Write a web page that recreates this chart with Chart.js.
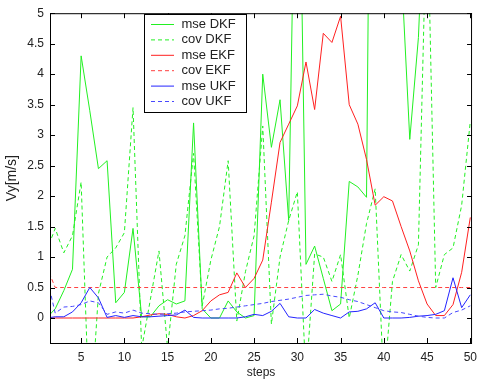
<!DOCTYPE html>
<html>
<head>
<meta charset="utf-8">
<script src="https://cdn.jsdelivr.net/npm/chart.js@4.4.1/dist/chart.umd.min.js"></script>
<style>
  html, body { margin: 0; padding: 0; background: #fff; }
  #wrap { width: 484px; height: 385px; }
</style>
</head>
<body>
<div id="wrap"><canvas id="chart" width="484" height="385"></canvas></div>
<script>
// values
const steps = [1, 2, 3, 4, 5, 6, 7, 8, 9, 10, 11, 12, 13, 14, 15, 16, 17, 18, 19, 20,
  21, 22, 23, 24, 25, 26, 27, 28, 29, 30, 31, 32, 33, 34, 35, 36, 37, 38, 39, 40,
  41, 42, 43, 44, 45, 46, 47, 48, 49, 50];

const mseDKF = [0.0, 0.15, 0.45, 0.8, 4.3, 3.4, 2.45, 2.58, 0.25, 0.42,
  1.47, 0.02, 0.02, 0.2, 0.3, 0.23, 0.28, 3.2, 0.15, 0.0,
  0.0, 0.28, 0.1, 0.0, 0.04, 4.0, 2.8, 3.58, 1.6, 10,
  0.88, 1.18, 0.65, 0.12, 0.23, 2.24, 2.15, 1.98, 18, 12,
  8, 5.8, 2.93, 4.6, 8, 10, 12, 14, 15, 16];

const covDKF = [1.1, 1.47, 1.07, 1.35, 2.23, -1.8, 0.4, 1.0, 1.15, 1.4,
  3.45, -0.5, 0.3, 1.1, -0.5, 0.88, 1.35, 2.7, 0.2, 0.95,
  1.5, 2.58, -0.05, 0.76, 1.35, 3.15, -0.1, 1.0, 1.6, 2.07,
  -1.0, 1.05, 1.0, 0.6, 1.04, 0.0, 0.7, 1.55, 2.12, -1.1,
  0.6, 1.04, 0.77, 1.2, 7, 0.5, 1.04, 1.15, 1.85, 3.23];

const mseEKF = [0, 0, 0, 0, 0, 0, 0, 0, 0, 0,
  0, 0.02, 0.05, 0.07, 0.06, 0.02, 0.0, 0.04, 0.12, 0.28,
  0.38, 0.42, 0.74, 0.5, 0.65, 0.95, 1.9, 2.88, 3.18, 3.48,
  4.2, 3.42, 4.67, 4.52, 4.95, 3.5, 3.18, 2.6, 1.85, 1.99,
  1.92, 1.5, 1.1, 0.61, 0.23, 0.04, 0.04, 0.22, 0.75, 1.65];

const covEKF = [0.85, 0.5, 0.5, 0.5, 0.5, 0.5, 0.5, 0.5, 0.5, 0.5,
  0.5, 0.5, 0.5, 0.5, 0.5, 0.5, 0.5, 0.5, 0.5, 0.5,
  0.5, 0.5, 0.5, 0.5, 0.5, 0.5, 0.5, 0.5, 0.5, 0.5,
  0.5, 0.5, 0.5, 0.5, 0.5, 0.5, 0.5, 0.5, 0.5, 0.5,
  0.5, 0.5, 0.5, 0.5, 0.5, 0.5, 0.5, 0.5, 0.5, 0.5];

const mseUKF = [0.0, 0.02, 0.02, 0.1, 0.25, 0.5, 0.33, 0.01, 0.04, 0.01,
  0.04, 0.02, 0.02, 0.03, 0.04, 0.05, 0.13, 0.01, 0.0, 0.0,
  0.0, 0.0, 0.0, 0.02, 0.06, 0.04, 0.11, 0.24, 0.02, 0.0,
  0.0, 0.14, 0.08, 0.04, 0.0, 0.1, 0.11, 0.15, 0.25, 0.0,
  0.0, 0.0, 0.01, 0.03, 0.04, 0.06, 0.12, 0.66, 0.17, 0.38];

const covUKF = [0.7, 0.08, 0.18, 0.19, 0.22, 0.28, 0.25, 0.06, 0.1, 0.08,
  0.13, 0.08, 0.07, 0.06, 0.07, 0.08, 0.1, 0.11, 0.12, 0.13,
  0.15, 0.16, 0.18, 0.2, 0.22, 0.24, 0.27, 0.29, 0.31, 0.34,
  0.37, 0.38, 0.39, 0.36, 0.34, 0.3, 0.27, 0.22, 0.17, 0.12,
  0.1, 0.09, 0.06, 0.03, 0.01, 0.0, 0.0, 0.09, 0.13, 0.2];

const xTicks = [5, 10, 15, 20, 25, 30, 35, 40, 45, 50];
const yTicks = [0, 0.5, 1, 1.5, 2, 2.5, 3, 3.5, 4, 4.5, 5];

const FONT = "'Liberation Sans', Arial, Helvetica, sans-serif";
const GREEN = "#22f022";
const RED = "#ff2020";
const BLUE = "#2424ff";
const DASH = [4, 3];

const SERIES = [
  { label: "mse DKF", data: mseDKF, color: GREEN, dash: [] },
  { label: "cov DKF", data: covDKF, color: GREEN, dash: DASH },
  { label: "mse EKF", data: mseEKF, color: RED, dash: [] },
  { label: "cov EKF", data: covEKF, color: "#ff4040", dash: DASH },
  { label: "mse UKF", data: mseUKF, color: BLUE, dash: [] },
  { label: "cov UKF", data: covUKF, color: "#4848ff", dash: DASH },
];

// box around the axes, inward tick marks, and a MATLAB-style legend
const frame = {
  id: "frame",
  afterDatasetsDraw(chart) {
    const { ctx, chartArea: a, scales: { x, y } } = chart;
    ctx.save();
    ctx.strokeStyle = "#000";
    ctx.lineWidth = 1;
    ctx.setLineDash([]);
    ctx.strokeRect(a.left + 0.5, a.top + 0.5, a.right - a.left - 1, a.bottom - a.top);
    ctx.beginPath();
    xTicks.forEach((v) => {
      const px = Math.round(x.getPixelForValue(v)) + 0.5;
      ctx.moveTo(px, a.bottom); ctx.lineTo(px, a.bottom - 5);
      ctx.moveTo(px, a.top); ctx.lineTo(px, a.top + 5);
    });
    yTicks.forEach((v) => {
      const py = Math.round(y.getPixelForValue(v)) + 0.5;
      ctx.moveTo(a.left, py); ctx.lineTo(a.left + 5, py);
      ctx.moveTo(a.right, py); ctx.lineTo(a.right - 5, py);
    });
    ctx.stroke();

    // legend
    const lx = 144.5, ly = 14.5, lw = 102, lh = 98;
    ctx.fillStyle = "#fff";
    ctx.fillRect(lx, ly, lw, lh);
    ctx.strokeRect(lx, ly, lw, lh);
    ctx.font = "13px " + FONT;
    ctx.textBaseline = "middle";
    SERIES.forEach((s, i) => {
      const ry = 24.5 + i * 15.4;
      ctx.strokeStyle = s.color;
      ctx.setLineDash(s.dash);
      ctx.beginPath();
      ctx.moveTo(151, ry); ctx.lineTo(174, ry);
      ctx.stroke();
      ctx.fillStyle = "#222";
      ctx.fillText(s.label, 181.5, ry);
    });
    ctx.restore();
  },
};

new Chart(document.getElementById("chart"), {
  type: "line",
  data: {
    datasets: SERIES.map((s, i) => ({
      label: s.label,
      data: steps.map((st, k) => ({ x: st, y: s.data[k] })),
      borderColor: s.color,
      backgroundColor: s.color,
      borderDash: s.dash,
      borderWidth: 1,
      pointRadius: 0,
      tension: 0,
      fill: false,
      order: SERIES.length - i,
    })),
  },
  options: {
    responsive: false,
    animation: false,
    devicePixelRatio: 1,
    layout: { padding: { top: 9, right: 4, left: 0, bottom: 0 } },
    plugins: { legend: { display: false }, tooltip: { enabled: false } },
    scales: {
      x: {
        type: "linear",
        min: 1.4,
        max: 50.2,
        afterBuildTicks: (s) => { s.ticks = xTicks.map((v) => ({ value: v })); },
        afterFit: (s) => { s.height = 42; },
        grid: { display: false, drawTicks: false },
        border: { display: false },
        ticks: { color: "#222", padding: 7, font: { family: FONT, size: 12 }, callback: (v) => String(v), maxRotation: 0 },
        title: { display: true, text: "steps", color: "#222", font: { family: FONT, size: 12 }, padding: { top: 0, bottom: 5 } },
      },
      y: {
        min: -0.41,
        max: 5,
        afterBuildTicks: (s) => { s.ticks = yTicks.map((v) => ({ value: v })); },
        afterFit: (s) => { s.width = 50; },
        grid: { display: false, drawTicks: false },
        border: { display: false },
        ticks: { color: "#222", padding: 6, font: { family: FONT, size: 12 }, callback: (v) => String(v) },
        title: { display: true, text: "Vy[m/s]", color: "#222", font: { family: FONT, size: 14 }, padding: { top: 4, bottom: 0 } },
      },
    },
  },
  plugins: [frame],
});
</script>
</body>
</html>
